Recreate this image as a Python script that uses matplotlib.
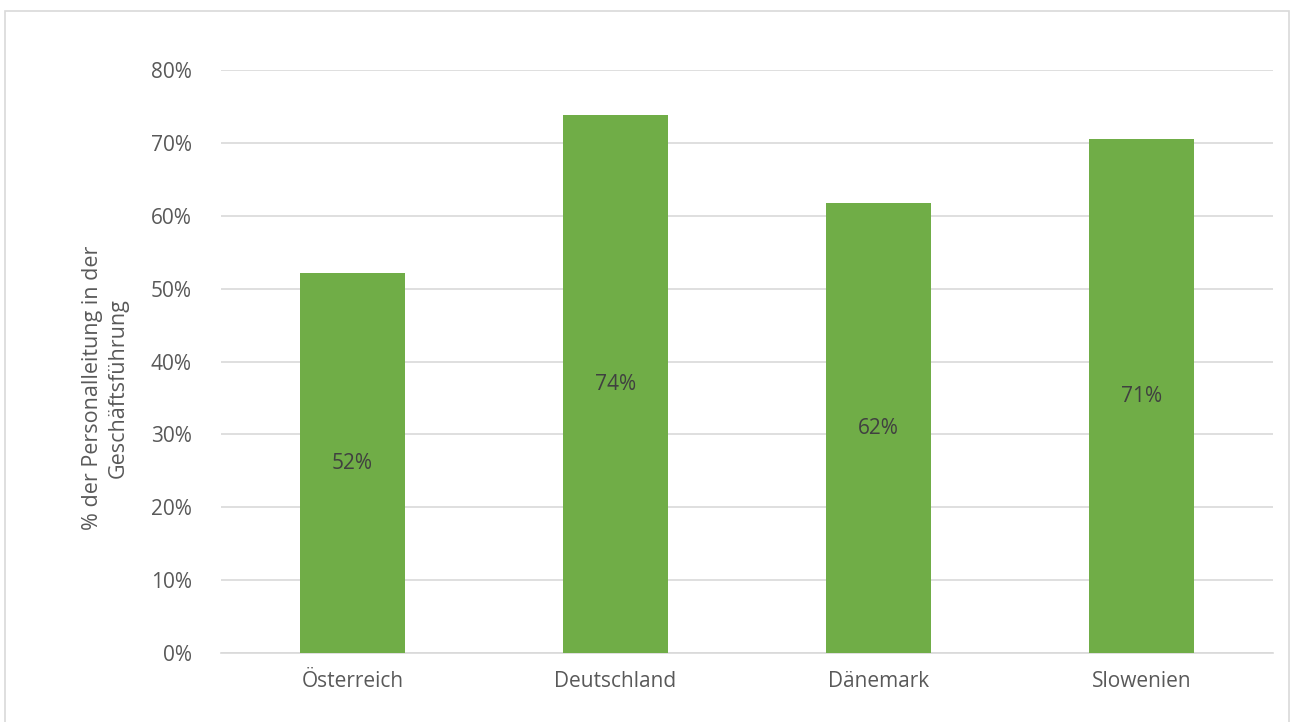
import matplotlib
matplotlib.use("Agg")
import matplotlib.pyplot as plt
from matplotlib.patches import Rectangle
from matplotlib.ticker import FuncFormatter

categories = ["Österreich", "Deutschland", "Dänemark", "Slowenien"]
values = [0.521, 0.738, 0.617, 0.705]
labels = ["52%", "74%", "62%", "71%"]
yticks = [0, 0.1, 0.2, 0.3, 0.4, 0.5, 0.6, 0.7, 0.8]

plt.rcParams['font.family'] = ['Open Sans', 'DejaVu Sans']

fig = plt.figure(figsize=(12.91, 7.22), dpi=100)
ax = fig.add_axes([221/1291, 1-653/722, (1273-221)/1291, (653-70)/722])

x = range(len(categories))
bars = ax.bar(x, values, width=0.4, color="#70AD47", zorder=3)
for xi, v, lab in zip(x, values, labels):
    ax.text(xi, v/2, lab, ha="center", va="center", fontsize=15, color="#404040", zorder=4)

ax.set_xlim(-0.5, 3.5)
ax.set_ylim(0, 0.8)
ax.set_yticks(yticks)
ax.yaxis.set_major_formatter(FuncFormatter(lambda v, p: f"{v*100:.0f}%"))
ax.set_xticks(list(x))
ax.set_xticklabels(categories)
ax.grid(axis="y", color="#D9D9D9", linewidth=1.2, zorder=0)
for s in ["top", "right", "left"]:
    ax.spines[s].set_visible(False)
ax.spines["bottom"].set_color("#D9D9D9")
ax.spines["bottom"].set_linewidth(1.2)
ax.tick_params(axis="both", length=0, labelsize=15, labelcolor="#595959")
ax.tick_params(axis="y", pad=21)
ax.tick_params(axis="x", pad=13)

fig.text(105/1291, 1-388/722, "% der Personalleitung in der\nGeschäftsführung", rotation=90,
         ha="center", va="center", fontsize=15.5, color="#595959", linespacing=1.3)

fig.patches.append(Rectangle((5/1291, -0.01), (1289-5)/1291, 1.01-11/722, transform=fig.transFigure,
                             fill=False, edgecolor="#D9D9D9", linewidth=1.2))

fig.savefig("out.png", dpi=100)
